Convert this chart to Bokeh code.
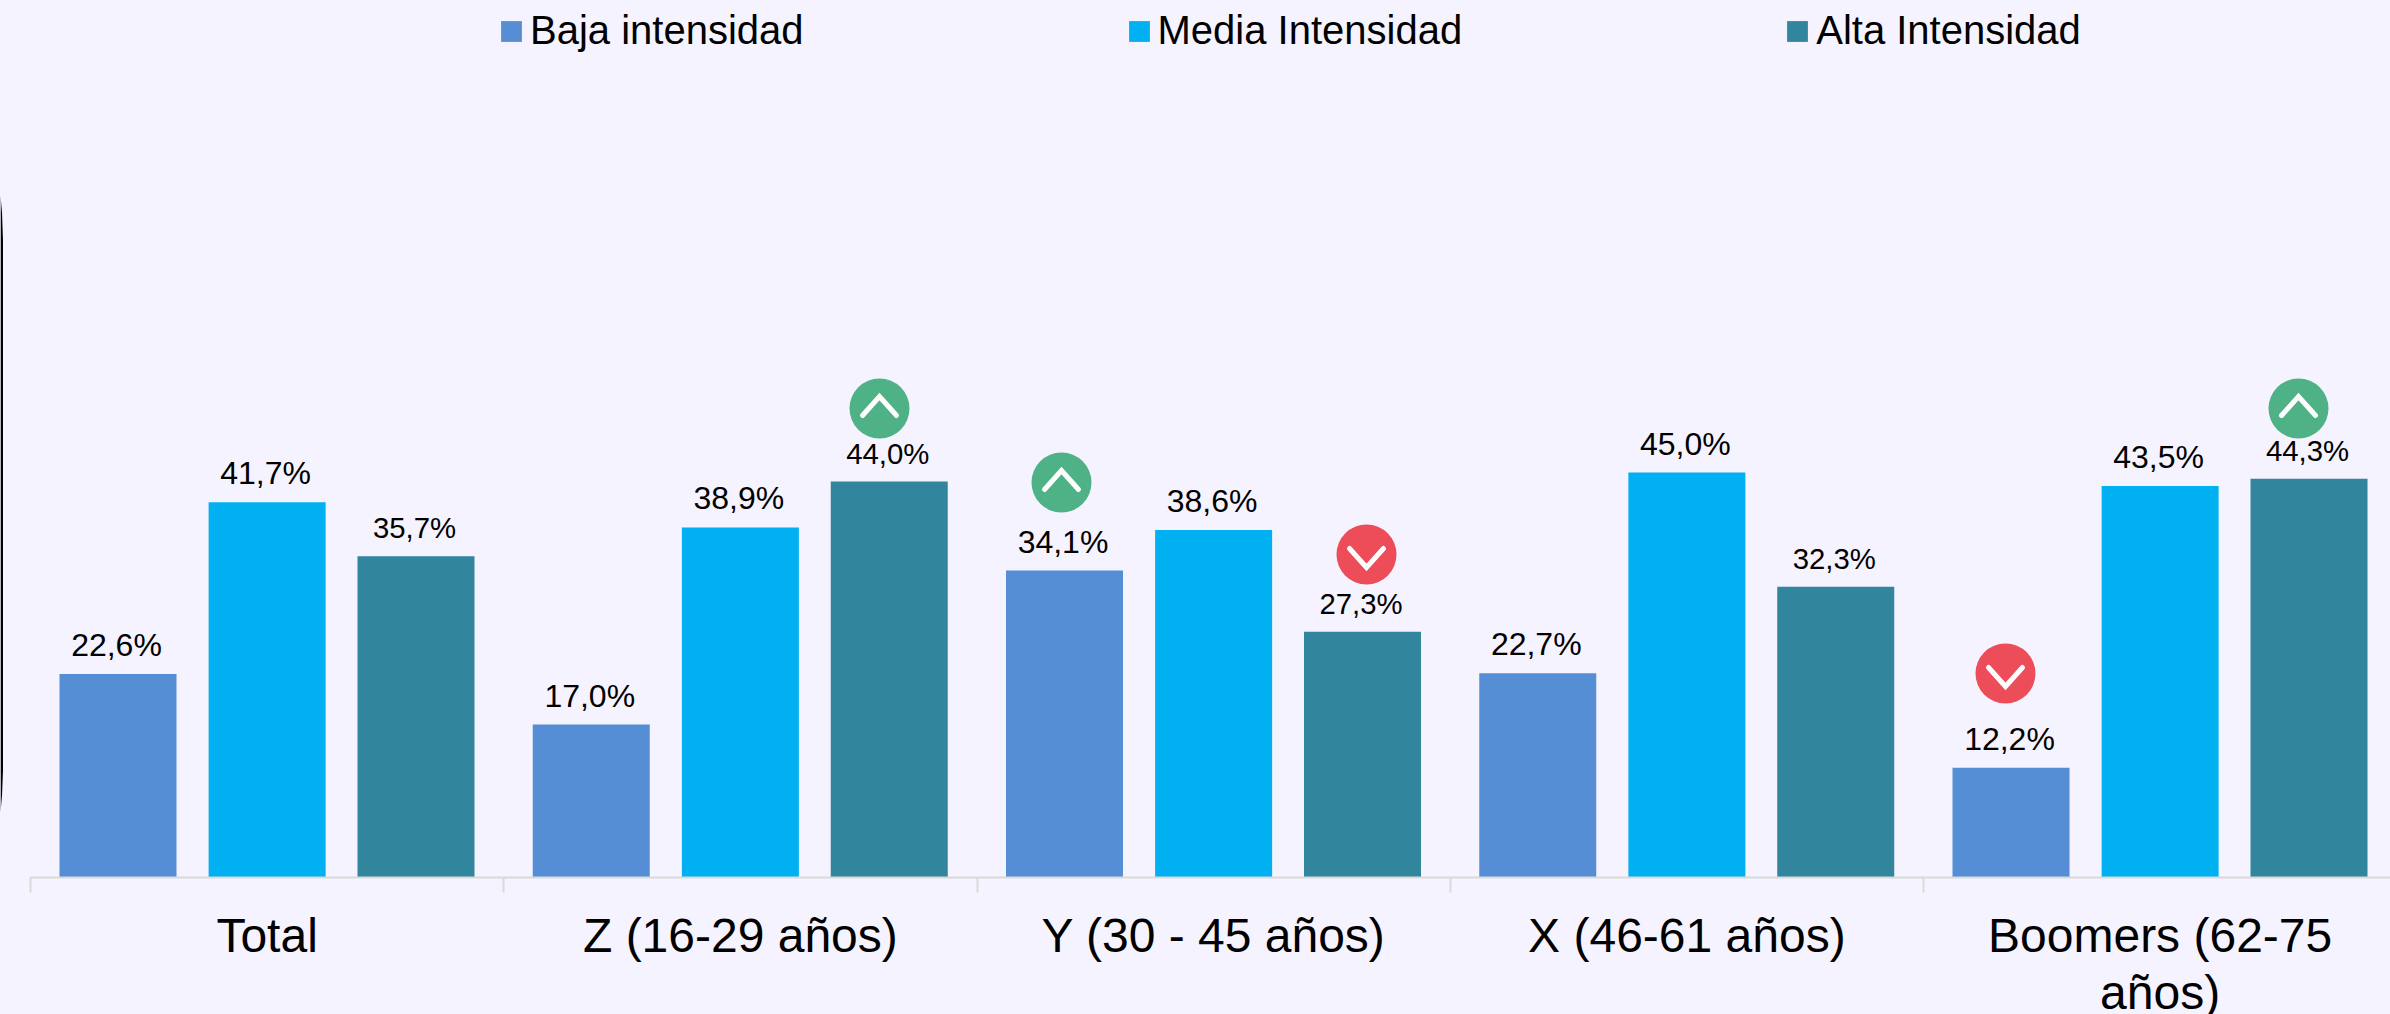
from bokeh.plotting import figure
from bokeh.models import Range1d, LinearAxis, FixedTicker, Legend, LabelSet, ColumnDataSource
from bokeh.core.properties import value
from bokeh.embed import file_html
from bokeh.resources import INLINE

categories = ["Total", "Z (16-29 años)", "Y (30 - 45 años)", "X (46-61 años)", "Boomers (62-75\naños)"]
baja = [22.6, 17.0, 34.1, 22.7, 12.2]
media = [41.7, 38.9, 38.6, 45.0, 43.5]
alta = [35.7, 44.0, 27.3, 32.3, 44.3]
series_names = ["Baja intensidad", "Media Intensidad", "Alta Intensidad"]
colors = ["#558ED5", "#00B0F0", "#31859C"]
label_sizes = ["32px", "32px", "29.33px"]

W, H = 2390, 1014
X0, CAT_W, Y0, PX_PER_UNIT = 30, 473.25, 877, 9.0
FONT = "Liberation Sans"
BG = "#F5F3FF"

def xd(px):
    return (px - X0) / CAT_W

def yd(py):
    return (Y0 - py) / PX_PER_UNIT

p = figure(width=W, height=H, output_backend="svg", toolbar_location=None,
           x_range=Range1d(xd(0), xd(W)), y_range=Range1d(yd(H), yd(0)),
           min_border=0, x_axis_type=None, y_axis_type=None,
           background_fill_color=BG, border_fill_color=BG, outline_line_color=None)
p.grid.visible = False

centers = [87.5 / CAT_W, 0.5, 385.5 / CAT_W]
bar_w = 117 / CAT_W
legend_items = []
for vals, c, name, off, fs in zip([baja, media, alta], colors, series_names, centers, label_sizes):
    src = ColumnDataSource(dict(x=[i + off for i in range(5)], top=vals,
                                label=[f"{v:.1f}%".replace(".", ",") for v in vals],
                                label_y=[v + 18 / PX_PER_UNIT for v in vals]))
    r = p.vbar(x="x", top="top", width=bar_w, bottom=0, source=src, fill_color=c,
               line_color=None)
    legend_items.append((name, [r]))
    p.add_layout(LabelSet(x="x", y="label_y", text="label", source=src, text_align="center",
                          text_baseline="alphabetic", text_font=value(FONT), x_offset=-1.5,
                          text_font_size=fs, text_color="#000000"))

# category axis: separators
sep_ticks = [0, 1, 2, 3, 4, 5]
sep = LinearAxis(ticker=FixedTicker(ticks=sep_ticks), fixed_location=0, bounds=(0, 5.2),
                 axis_line_color="#D9D9D9", axis_line_width=2, major_tick_line_color="#D9D9D9",
                 major_tick_line_width=2, major_tick_in=0, major_tick_out=15,
                 minor_tick_line_color=None, major_label_overrides={t: "" for t in sep_ticks})
p.add_layout(sep, "below")
lab = LinearAxis(ticker=FixedTicker(ticks=[i + 0.5 for i in range(5)]), fixed_location=0,
                 axis_line_color=None, major_tick_line_color=None, minor_tick_line_color=None,
                 major_label_overrides={i + 0.5: c for i, c in enumerate(categories)},
                 major_label_text_font=FONT, major_label_text_font_size="48px",
                 major_label_text_color="#000000", major_label_standoff=25,
                 major_label_text_line_height=1.09)
p.add_layout(lab, "below")

# change markers
up_xy = [(879, 408), (1061, 482), (2298, 408)]
down_xy = [(1366, 554), (2005, 673)]
for pts, col, apex, end in [(up_xy, "#4FB286", -12, 7), (down_xy, "#EC4D58", 13, -6)]:
    p.scatter([xd(a) for a, _ in pts], [yd(b) for _, b in pts], size=60, marker="circle",
              fill_color=col, line_color=None)
    p.multi_line([[xd(a - 17), xd(a), xd(a + 17)] for a, _ in pts],
                 [[yd(b + end), yd(b + apex), yd(b + end)] for _, b in pts],
                 line_color="#FFFFFF", line_width=5, line_cap="round", line_join="miter")

# rounded panel edge cut by the left side of the picture
p.patch([xd(v) for v in [0, 1.5, 2.5, 2.5, 1.5, 0]],
        [yd(v) for v in [195, 212, 240, 770, 795, 812]],
        fill_color="#000000", line_color=None)

legend = Legend(items=legend_items, orientation="horizontal", location=(498, H - 53),
                background_fill_alpha=0, border_line_color=None, padding=0, margin=0,
                spacing=322, glyph_width=26, glyph_height=26, label_standoff=6,
                label_text_font=FONT, label_text_font_size="40px", label_text_color="#000000")
p.add_layout(legend, "center")

open("out.html", "w").write(file_html(p, INLINE).replace(
    "</head>", "<style>html,body{margin:0;padding:0;background:%s;overflow:hidden}</style></head>" % BG))
